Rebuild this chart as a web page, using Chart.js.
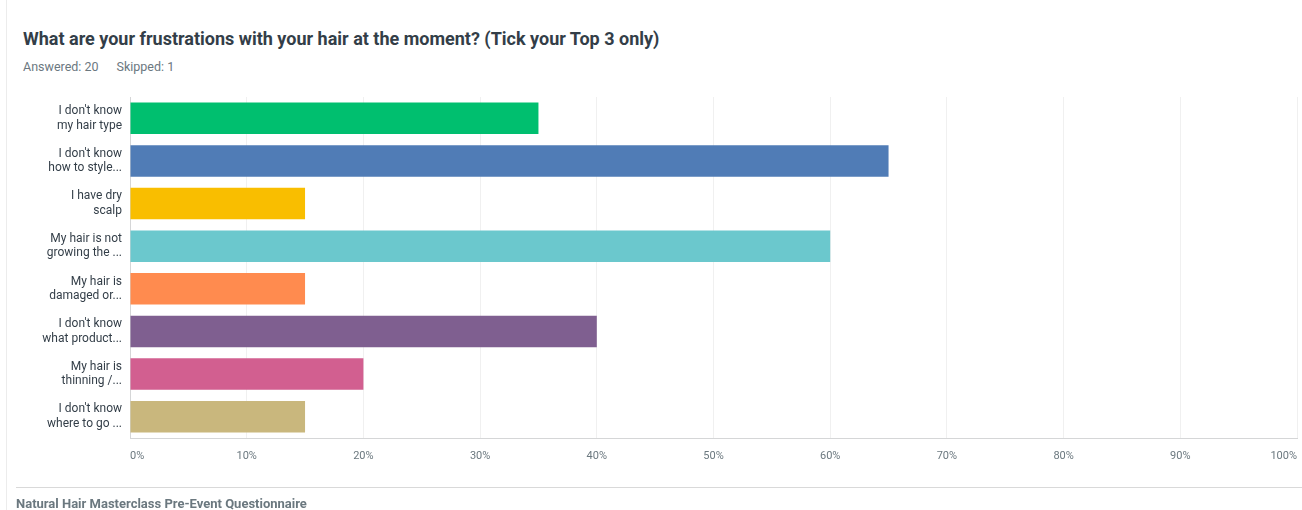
<!DOCTYPE html>
<html>
<head>
<meta charset="utf-8">
<script src="https://cdn.jsdelivr.net/npm/chart.js@4"></script>
<style>
  html, body { margin:0; padding:0; background:#fff; }
  body { width:1302px; height:510px; position:relative; overflow:hidden; font-family:"Roboto","Open Sans",sans-serif; }
  #frame { position:absolute; left:6px; top:0; width:1296px; height:510px; border-left:1px solid #ececec; }
  #title { position:absolute; left:23px; top:28px; font-size:18px; font-weight:700; color:#333e48; white-space:nowrap; letter-spacing:0px; }
  #sub { position:absolute; left:23px; top:59px; font-size:12.5px; color:#6b787f; white-space:nowrap; }
  #sub span { margin-right:18px; }
  #foot { position:absolute; left:16px; top:487px; width:1286px; border-top:1px solid #d9d9d9; }
  #foottext { position:absolute; left:16px; top:496px; font-size:13px; font-weight:700; color:#6b787f; white-space:nowrap; }
  #wrap { position:absolute; left:0; top:0; width:1302px; height:510px; }
</style>
</head>
<body>
<div id="frame"></div>
<div id="title">What are your frustrations with your hair at the moment? (Tick your Top 3 only)</div>
<div id="sub"><span>Answered: 20</span><span>Skipped: 1</span></div>
<div id="wrap"><canvas id="c" width="1302" height="510"></canvas></div>
<div id="foot"></div>
<div id="foottext">Natural Hair Masterclass Pre-Event Questionnaire</div>
<script>
const categories = [
  ["I don't know", "my hair type"],
  ["I don't know", "how to style..."],
  ["I have dry", "scalp"],
  ["My hair is not", "growing the ..."],
  ["My hair is", "damaged or..."],
  ["I don't know", "what product..."],
  ["My hair is", "thinning /..."],
  ["I don't know", "where to go ..."]
];
const values = [35, 65, 15, 60, 15, 40, 20, 15];
const barColors = ["#00bf6f", "#507cb6", "#f9be00", "#6bc8cd", "#ff8b4f", "#7f5f90", "#d25f90", "#c9b77d"];
const tickLabels = ["0%","10%","20%","30%","40%","50%","60%","70%","80%","90%","100%"];

new Chart(document.getElementById('c'), {
  type: 'bar',
  data: {
    labels: categories,
    datasets: [{
      data: values,
      backgroundColor: barColors,
      borderWidth: 0,
      categoryPercentage: 1,
      barPercentage: 0.74
    }]
  },
  options: {
    indexAxis: 'y',
    responsive: false,
    animation: false,
    layout: { padding: { left: 0, right: 5, top: 97, bottom: 42 } },
    plugins: { legend: { display: false }, tooltip: { enabled: false } },
    scales: {
      x: {
        min: 0, max: 100,
        ticks: {
          stepSize: 10,
          align: 'inner',
          padding: 0,
          color: '#6b787f',
          font: { family: 'Roboto', size: 11 },
          callback: (v, i) => tickLabels[i]
        },
        grid: { color: '#f0f0f0', drawTicks: true, tickLength: 12, tickColor: 'rgba(0,0,0,0)', lineWidth: 1 },
        border: { color: '#d5d6d7', width: 1 },
        afterFit: s => { s.height = 30; }
      },
      y: {
        ticks: {
          color: '#333e48',
          padding: 8,
          font: { family: 'Roboto', size: 12, lineHeight: 1.2 }
        },
        grid: { display: false, drawTicks: false },
        border: { color: '#d5d6d7', width: 1 },
        afterFit: s => { s.width = 130; }
      }
    }
  }
});
</script>
</body>
</html>
